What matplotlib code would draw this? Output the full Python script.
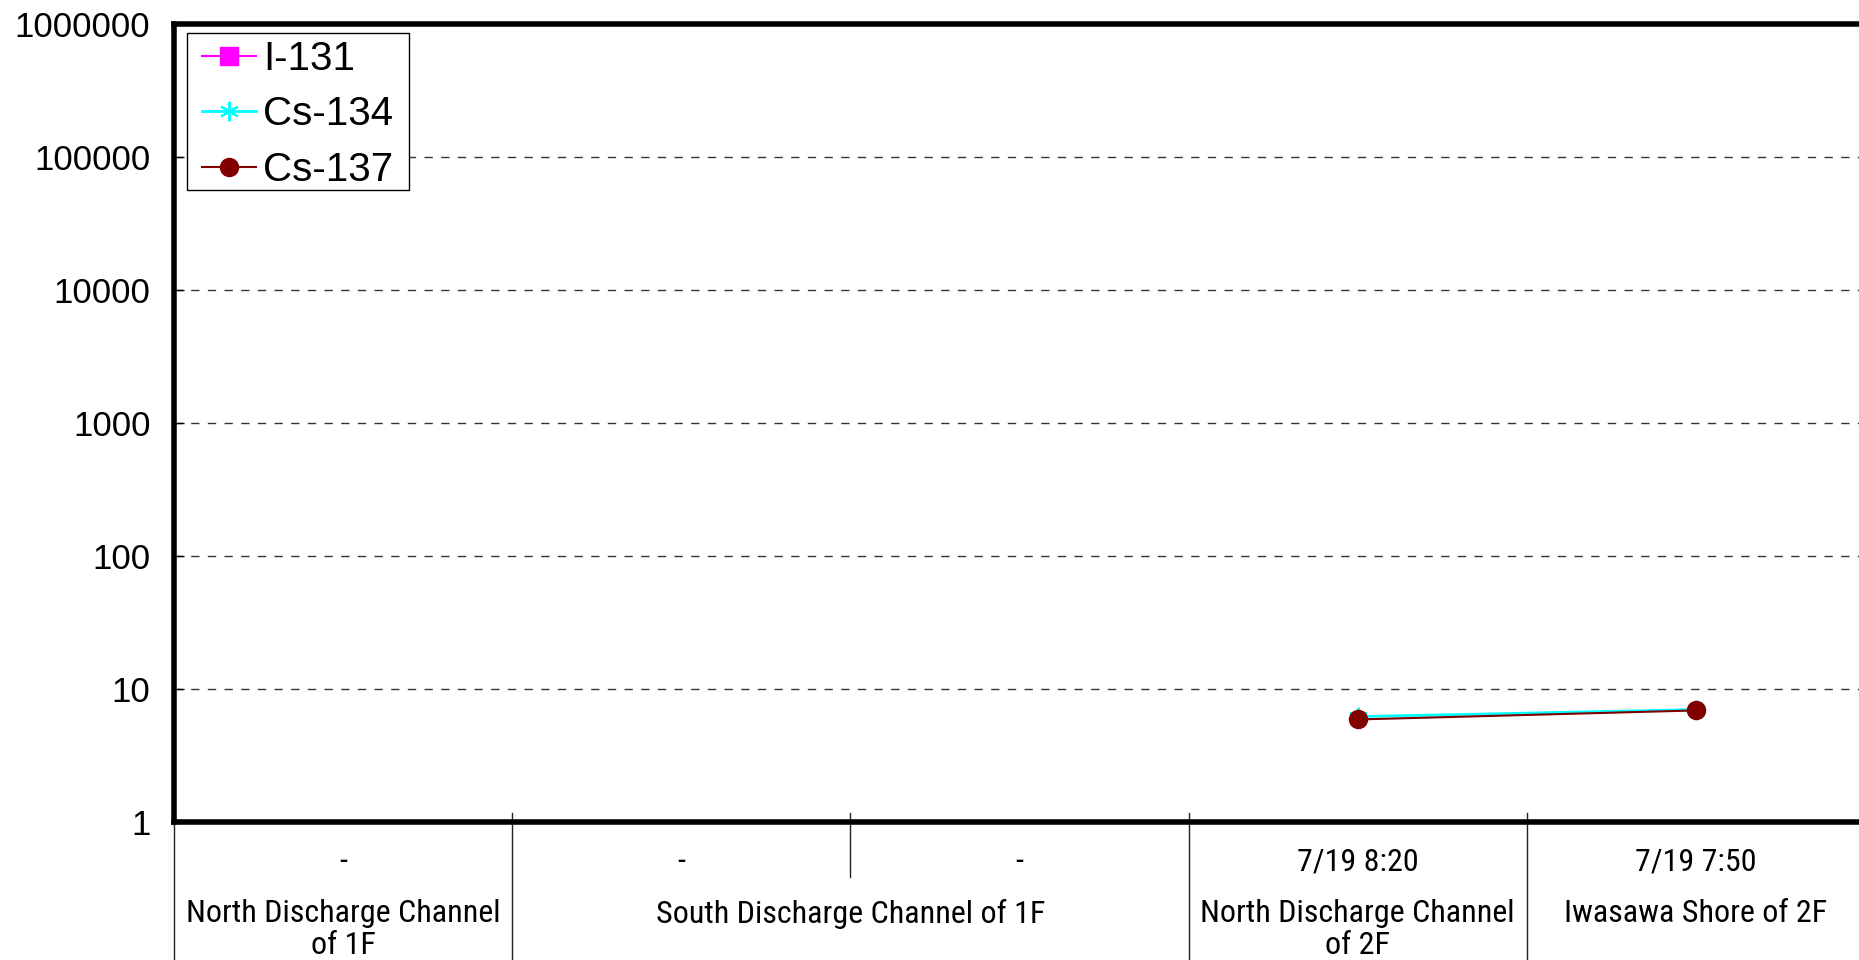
import numpy as np
import matplotlib
matplotlib.use("Agg")
import matplotlib.pyplot as plt
import matplotlib.transforms as mtransforms
from matplotlib import font_manager
from matplotlib.patches import Rectangle

# sampling points (x axis, two-level labels)
sample_times = ["-", "-", "-", "7/19 8:20", "7/19 7:50"]
groups = ["North Discharge Channel\nof 1F", "South Discharge Channel of 1F",
          "North Discharge Channel\nof 2F", "Iwasawa Shore of 2F"]
group_spans = [(0, 0), (1, 2), (3, 3), (4, 4)]

# concentrations (NaN = not detected / no sample)
i131 = [np.nan, np.nan, np.nan, np.nan, np.nan]
cs134 = [np.nan, np.nan, np.nan, 6.2, 7.0]
cs137 = [np.nan, np.nan, np.nan, 5.9, 6.9]

yticks = [1, 10, 100, 1000, 10000, 100000, 1000000]


def pick_font(names):
    for n in names:
        try:
            font_manager.findfont(n, fallback_to_default=False)
            return n
        except Exception:
            pass
    return None


narrow_name = pick_font(["Liberation Sans Narrow", "Arial Narrow", "Roboto Condensed"])
if narrow_name:
    xfont, xsize = [narrow_name, "DejaVu Sans"], 23
else:
    xfont, xsize = ["Liberation Sans", "DejaVu Sans"], 20
sans = ["Liberation Sans", "DejaVu Sans"]

W, H = 1859, 960
fig = plt.figure(figsize=(W / 100, H / 100), dpi=100)
ax = fig.add_axes([174 / W, (H - 822) / H, 1691 / W, 798 / H])

x = np.arange(len(sample_times))
ax.plot(x, i131, color="#ff00ff", marker="s", markersize=13, lw=1.5, label="I-131")
ax.plot(x, cs134, color="#00ffff", marker=(6, 2, 0), markersize=14, mew=1.5, lw=2, label="Cs-134")
ax.plot(x, cs137, color="#800000", marker="o", markersize=13, lw=1.5, label="Cs-137")

ax.set_yscale("log")
ax.set_ylim(1, 1000000)
ax.set_xlim(-0.5, len(sample_times) - 0.5)
ax.set_yticks(yticks)
ax.set_yticklabels([str(v) for v in yticks], fontsize=25, family=sans)
ax.yaxis.set_minor_locator(matplotlib.ticker.NullLocator())
ax.tick_params(axis="y", direction="in", length=7, width=1, pad=17)
ax.set_xticks([])

for v in yticks[1:-1]:
    ax.axhline(v, color="#333333", lw=1, ls=(0, (6, 6)), zorder=0)

for s in ["left", "top", "bottom"]:
    ax.spines[s].set_linewidth(4)
ax.spines["right"].set_visible(False)

trans = mtransforms.blended_transform_factory(ax.transData, ax.transAxes)

# first row: sample times
for i, t in enumerate(sample_times):
    ax.text(i, -0.050, t, transform=trans, ha="center", va="center", fontsize=xsize, family=xfont)

# second row: locations
for g, (a, b) in zip(groups, group_spans):
    ax.text((a + b) / 2, -0.097, g, transform=trans, ha="center", va="top",
            fontsize=xsize, family=xfont, linespacing=1.12)

# divider lines of the category axis
bounds = [-0.5] + [b + 0.5 for a, b in group_spans]
for bx in bounds:
    ax.plot([bx, bx], [0.0113, -0.2], transform=trans, color="#222222", lw=1, clip_on=False)
for a, b in group_spans:
    for k in range(a, b):
        ax.plot([k + 0.5, k + 0.5], [0.0113, -0.069], transform=trans, color="#222222", lw=1, clip_on=False)

# legend: frame drawn separately to get the wider side padding
ax.add_patch(Rectangle((0.0077, 0.792), 0.1313, 0.1967, transform=ax.transAxes,
                       facecolor="white", edgecolor="black", lw=1, zorder=4))
leg = ax.legend(loc="upper left", bbox_to_anchor=(0.0165, 0.980), borderaxespad=0,
                frameon=False, prop={"family": sans, "size": 29},
                handlelength=1.35, handletextpad=0.17, labelspacing=0.43, borderpad=0)
leg.set_zorder(5)

fig.savefig("out.png", dpi=100)
